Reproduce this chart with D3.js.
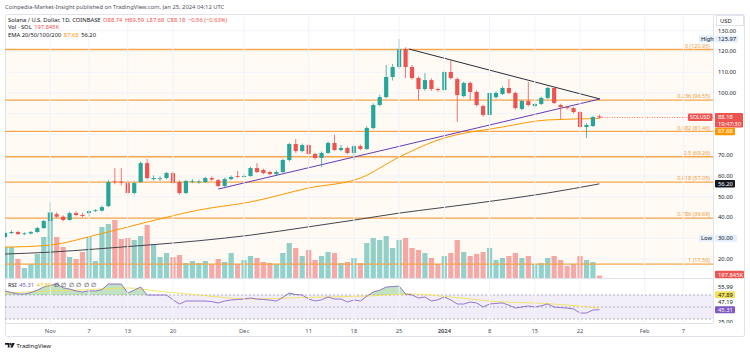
<!DOCTYPE html>
<html lang="en">
<head>
<meta charset="UTF-8">
<script src="https://cdn.jsdelivr.net/npm/d3@7"></script>
<title>SOLUSD 1D</title>
<style>
    body { margin: 0; background: #fff; }
    svg { display: block; font-family: "Noto Sans", "Open Sans", sans-serif; }
    text { font-size: 5.8px; fill: #131722; }
</style>
</head>
<body>
<svg width="750" height="353"></svg>

<script>
    // daily candles, Oct 25 2023 .. Jan 25 2024
    const firstDay = "2023-10-25", lastDay = "2024-01-25";

    const open = [30.6,32.5,33.0,32.0,32.3,33.0,34.9, 38.3,41.6,40.4,38.8,42.1,41.2,42.1,43.1,43.3,45.5,57.4,57.3,56.6,51.8,57.1,66.2,58.5,58.6,59.0,61.4,57.1,51.8,57.3,57.0,57.1,59.0,58.0,55.2,58.5,59.9,
        59.5,60.0,63.8,62.9,61.9,60.9,61.9,67.7,75.4,72.0,74.9,70.6,68.7,71.1,75.9,72.5,73.5,71.1,74.4,73.0,83.1,94.2,98.0,107.7,112.5,121.2,112.5,107.2,101.9,106.2,101.9,
        101.4,110.1,106.7,98.5,104.8,100.5,93.7,89.4,98.0,99.5,102.4,100.0,92.3,96.1,93.7,94.7,97.6,102.4,94.2,93.2,92.7,90.8,83.6,84.1,88.74];
    const high = [33.2,33.8,33.6,32.9,33.5,35.5,38.8, 47.4,42.5,41.0,42.8,43.0,42.2,43.6,44.0,45.8,58.0,63.8,63.8,58.0,57.3,67.0,68.2,60.3,59.8,62.0,62.2,57.8,58.2,58.5,58.2,59.6,59.8,58.6,59.2,60.2,62.4,
        61.0,64.4,66.2,63.5,62.5,62.6,68.4,76.0,77.8,75.6,75.6,71.2,71.8,76.6,79.8,75.0,74.2,75.0,75.2,84.0,95.0,99.2,113.5,114.0,125.97,122.0,113.5,108.0,109.6,107.0,102.6,
        110.8,116.4,107.5,105.5,105.6,101.2,94.4,100.6,100.8,103.2,106.7,100.6,96.8,105.3,95.4,98.2,103.0,103.0,94.8,93.8,93.3,91.3,85.4,89.0,89.59];
    const low = [30.0,32.0,31.6,31.5,31.8,32.6,34.5, 37.8,39.8,38.2,38.5,40.6,40.2,40.5,42.6,42.8,45.0,56.0,55.5,51.0,51.2,56.6,58.3,57.8,57.6,58.4,56.0,51.0,51.2,56.5,56.3,56.6,57.6,54.6,54.8,58.0,59.0,
        59.2,59.6,61.4,60.8,60.4,60.4,61.4,67.0,71.2,71.4,66.2,68.0,64.3,70.6,72.0,71.8,70.5,67.7,72.4,72.5,82.5,93.5,97.4,106.0,111.5,107.2,106.5,96.6,101.0,101.0,100.6,
        101.0,106.5,86.0,97.8,96.6,93.5,88.6,86.0,97.2,99.0,99.4,92.0,91.6,93.6,93.0,94.2,97.0,94.6,87.4,92.0,90.2,83.0,78.3,83.6,87.68];
    const close = [32.5,33.0,32.0,32.3,33.0,34.9,38.3, 42.1,40.4,38.8,42.1,41.2,40.7,43.1,43.5,45.0,57.1,57.1,56.8,51.8,56.6,66.2,59.0,59.0,58.9,61.4,56.6,51.8,57.6,57.6,57.3,59.0,58.3,55.2,58.5,59.5,59.5,
        60.0,63.8,61.9,61.4,60.9,61.9,67.7,75.4,72.0,74.9,70.6,68.7,71.1,75.9,72.5,73.5,71.1,74.4,73.0,83.1,94.2,98.0,107.7,112.5,121.2,112.5,107.2,101.9,106.2,101.9,101.4,
        110.1,107.2,99.0,104.8,100.5,94.2,89.4,100.0,100.0,102.4,100.0,92.7,96.1,94.2,94.7,97.6,102.4,95.2,93.2,92.7,90.8,83.6,84.6,88.4,88.18];
    // volume, thousands of SOL
    const volume = [2480,2480,1520,800,1120,1920,3280, 5280,3280,2480,1680,1520,2080,3280,1360,4080,4320,4640,3120,3200,3040,3360,4240,2720,1680,2000,1680,1840,1200,1360,1200,1360,1120,1520,1280,2000,1120,
        1440,1760,1600,1280,1200,1120,2000,2800,2400,1760,2240,1440,1760,2080,2000,1200,1280,1600,1200,2800,3200,3040,3360,2400,3040,3200,2400,2240,2000,1600,1120,
        1760,2000,3040,2080,1760,1920,2080,2400,1440,1600,1760,2000,1600,1760,1120,1200,1600,1760,1440,960,1120,1760,1440,1280,197.845];
    const rsi = [76.7,74,71.7,71.7,74,78,83.3, 86,88.3,82,80,76.7,75,77,76.7,79,88.3,88.3,88.3,73.3,78,83.3,70,70,70,70,62,55,60,60,60,60,59,56.7,60,61.7,62.5,
        63.3,65,63.3,62.5,61.5,60,66,73.3,70.8,70,63.3,60,62,66.7,63.3,63.3,58.3,61.7,60,68,75,78,83.3,84,85,72,70,65,66.7,60,62,
        66.7,61.7,55,55,58.3,56.7,50,55,56,56.7,53,48.3,50,51.7,50,52,55,50,49,48.3,46.7,40,40,45,45.31];

    // RSI-based MA, read at a few dates
    const rsiMaDates = ["2023-10-25","2023-11-01","2023-11-07","2023-11-13","2023-11-18","2023-11-24","2023-12-02","2023-12-10","2023-12-20","2023-12-27","2024-01-02","2024-01-10","2024-01-15","2024-01-20","2024-01-25"];
    const rsiMa = [73.3,76.7,79,81.7,76,70,63.3,65.8,68.3,71.7,66.7,58.3,56.7,53.3,47.89];

    // EMA lines, read at a few dates
    const emaDates = ["2023-10-25","2023-11-01","2023-11-08","2023-11-16","2023-11-24","2023-12-02","2023-12-11","2023-12-19","2023-12-25","2023-12-31","2024-01-10","2024-01-17","2024-01-25"];
    const emaOrange = [25.7,26.7,31.5,37.8,43.6,47.5,54.2,59.0,69.1,77.3,83.6,87.0,87.68];
    const emaGrey = [22.4,23.3,24.8,26.7,28.8,31.5,35.5,39.2,42.1,44.5,48.6,51.8,56.20];

    // drawn trend lines
    const wedgeTopDates = ["2023-12-26T12:00Z","2024-01-25T02:00Z"];
    const wedgeTop = [121.2, 97.1];
    const wedgeLowDates = ["2023-11-27","2024-01-25T02:00Z"];
    const wedgeLow = [53.7, 97.1];

    // fibonacci retracement
    const fibRatios = ["0","0.236","0.382","0.5","0.618","0.786","1"];
    const fibValues = [120.95,96.55,81.46,69.26,57.05,39.69,17.56];

    const priceTicks = [130,120,110,100,90,80,70,60,50,40,30,20];
    const timeTicks = ["2023-11-01","2023-11-07","2023-11-13","2023-11-20","2023-12-01","2023-12-11","2023-12-18","2023-12-25","2024-01-01","2024-01-08","2024-01-15","2024-01-22","2024-02-01","2024-02-07"];
    const timeLabels = ["Nov","7","13","20","Dec","11","18","25","2024","8","15","22","Feb","7"];

    const green = "#26a69a", red = "#ef5350", orange = "#ff9800", purple = "#7e57c2";

    const dates = d3.utcDay.range(new Date(firstDay), d3.utcDay.offset(new Date(lastDay), 1));
    const bars = dates.map((d, i) => ({date: d, o: open[i], h: high[i], l: low[i], c: close[i], v: volume[i], rsi: rsi[i]}));

    const left = 5, right = 713, paneTop = 15, mainBottom = 278, rsiTop = 279, rsiBottom = 323;

    const x = d3.scaleUtc()
        .domain([new Date("2023-10-25"), new Date("2024-02-11T14:00Z")])
        .range([left, right]);
    const y = d3.scaleLinear().domain([20, 130]).range([259, 30.7]);
    const vy = d3.scaleLinear().domain([0, d3.max(volume)]).range([mainBottom, mainBottom - 66]);
    const ry = d3.scaleLinear().domain([30, 70]).range([319, 295]);

    const svg = d3.select("svg");
    const defs = svg.append("defs");
    defs.append("clipPath").attr("id", "mainClip")
        .append("rect").attr("x", left).attr("y", paneTop).attr("width", right - left).attr("height", mainBottom - paneTop);
    defs.append("clipPath").attr("id", "rsiClip")
        .append("rect").attr("x", left).attr("y", rsiTop).attr("width", right - left).attr("height", rsiBottom - rsiTop);
    defs.append("clipPath").attr("id", "obClip")
        .append("rect").attr("x", left).attr("y", rsiTop).attr("width", right - left).attr("height", ry(70) - rsiTop);
    defs.append("clipPath").attr("id", "axisClip")
        .append("rect").attr("x", 714).attr("y", rsiTop).attr("width", 30).attr("height", rsiBottom - rsiTop);

    // header
    svg.append("text").attr("x", 5).attr("y", 9).style("fill", "#50535e")
        .text("Coinpedia-Market-Insight published on TradingView.com, Jan 25, 2024 04:12 UTC");

    // frame
    svg.append("rect").attr("x", 5.5).attr("y", 14.5).attr("width", 739).attr("height", 322)
        .attr("rx", 2).attr("fill", "none").attr("stroke", "#e0e3eb");

    const main = svg.append("g").attr("clip-path", "url(#mainClip)");
    const pane2 = svg.append("g").attr("clip-path", "url(#rsiClip)");

    // fib background
    main.append("rect").attr("x", left).attr("width", right - left)
        .attr("y", y(fibValues[0])).attr("height", y(fibValues[6]) - y(fibValues[0]))
        .attr("fill", "rgba(255,152,0,0.045)");

    // grid
    main.selectAll(".hgrid").data(priceTicks).join("line")
        .attr("x1", left).attr("x2", right).attr("y1", d => y(d)).attr("y2", d => y(d))
        .attr("stroke", "#f0f3fa");
    svg.selectAll(".vgrid").data(timeTicks).join("line")
        .attr("x1", d => x(new Date(d))).attr("x2", d => x(new Date(d)))
        .attr("y1", paneTop).attr("y2", rsiBottom).attr("stroke", "#f0f3fa");

    // volume
    main.selectAll(".vol").data(bars).join("rect")
        .attr("x", d => x(d.date) - 2.6).attr("width", 5.2)
        .attr("y", d => vy(d.v)).attr("height", d => mainBottom - vy(d.v))
        .attr("fill", d => d.c >= d.o ? "rgba(38,166,154,0.5)" : "rgba(239,83,80,0.5)");

    // fib lines
    main.selectAll(".fib").data(fibValues).join("line")
        .attr("x1", left).attr("x2", right).attr("y1", d => y(d)).attr("y2", d => y(d))
        .attr("stroke", "#f7a64b").attr("stroke-width", 1.3);

    // EMAs
    const emaLine = vals => d3.line().curve(d3.curveMonotoneX)
        .x((d, i) => x(new Date(emaDates[i]))).y(d => y(d))(vals);
    main.append("path").attr("d", emaLine(emaGrey)).attr("fill", "none").attr("stroke", "#434651").attr("stroke-width", 1);
    main.append("path").attr("d", emaLine(emaOrange)).attr("fill", "none").attr("stroke", orange).attr("stroke-width", 1);

    // trend lines
    const seg = (ds, vs) => d3.line().x((d, i) => x(new Date(ds[i]))).y(d => y(d))(vs);
    main.append("path").attr("d", seg(wedgeLowDates, wedgeLow)).attr("stroke", "#673ab7").attr("stroke-width", 1).attr("fill", "none");
    main.append("path").attr("d", seg(wedgeTopDates, wedgeTop)).attr("stroke", "#2a2e39").attr("stroke-width", 1).attr("fill", "none");

    // candles
    const cg = main.selectAll(".candle").data(bars).join("g");
    cg.append("line")
        .attr("x1", d => x(d.date)).attr("x2", d => x(d.date))
        .attr("y1", d => y(d.h)).attr("y2", d => y(d.l))
        .attr("stroke", d => d.c >= d.o ? green : red).attr("stroke-width", 0.8);
    cg.append("rect")
        .attr("x", d => x(d.date) - 2.1).attr("width", 4.2)
        .attr("y", d => y(Math.max(d.o, d.c)))
        .attr("height", d => Math.max(0.8, Math.abs(y(d.o) - y(d.c))))
        .attr("fill", d => d.c >= d.o ? green : red);

    // current price line
    const last = bars[bars.length - 1];
    main.append("line").attr("x1", x(last.date)).attr("x2", right)
        .attr("y1", y(last.c)).attr("y2", y(last.c))
        .attr("stroke", red).attr("stroke-dasharray", "1,1.5").attr("stroke-width", 0.8);

    // fib labels
    main.selectAll(".fibLabel").data(fibValues).join("text")
        .attr("x", 710).attr("y", d => y(d) - 1.8).attr("text-anchor", "end")
        .style("fill", "#f29a3a").style("font-size", "5.5px")
        .text((d, i) => `${fibRatios[i]} (${d.toFixed(2)})`);

    // legend
    const leg = (yy, parts) => {
        const t = svg.append("text").attr("x", 8).attr("y", yy);
        parts.forEach(([s, c], i) => t.append("tspan").attr("dx", i ? 2.5 : 0).style("fill", c).text(s));
    };
    leg(22, [["Solana / U.S. Dollar, 1D, COINBASE", "#131722"],
        ["O88.74", red], ["H89.59", red], ["L87.68", red], ["C88.18", red], ["\u22120.56 (\u22120.63%)", red]]);
    leg(29, [["Vol \u00b7 SOL", "#131722"], ["197.845K", red]]);
    leg(37, [["EMA 20/50/100/200", "#131722"], ["87.68", orange], ["56.20", "#131722"]]);

    // RSI pane
    svg.append("line").attr("x1", left).attr("x2", right).attr("y1", rsiTop - 0.5).attr("y2", rsiTop - 0.5).attr("stroke", "#e0e3eb");
    pane2.append("rect").attr("x", left).attr("width", right - left)
        .attr("y", ry(70)).attr("height", ry(30) - ry(70)).attr("fill", "rgba(126,87,194,0.1)");
    pane2.selectAll(".lvl").data([70, 50, 30]).join("line")
        .attr("x1", left).attr("x2", right).attr("y1", d => ry(d)).attr("y2", d => ry(d))
        .attr("stroke", "#9598a1").attr("stroke-dasharray", "2,2").attr("stroke-width", 0.7);
    pane2.append("path")
        .attr("clip-path", "url(#obClip)")
        .attr("d", d3.area().x(d => x(d.date)).y0(ry(70)).y1(d => ry(d.rsi))(bars))
        .attr("fill", "rgba(76,175,80,0.35)");
    pane2.append("path")
        .attr("d", d3.line().curve(d3.curveMonotoneX).x((d, i) => x(new Date(rsiMaDates[i]))).y(d => ry(d))(rsiMa))
        .attr("fill", "none").attr("stroke", "#f2e15a").attr("stroke-width", 0.9);
    pane2.append("path")
        .attr("d", d3.line().x(d => x(d.date)).y(d => ry(d.rsi))(bars))
        .attr("fill", "none").attr("stroke", purple).attr("stroke-width", 0.8);
    const rl = svg.append("text").attr("x", 8).attr("y", 287);
    [["RSI", "#131722"], ["45.31", purple], ["47.89", "#e3c800"], ["\u2205", "#131722"], ["\u2205", "#131722"], ["\u2205", "#131722"],
        ["\u2205", "#131722"], ["\u2205", "#131722"], ["\u2205", "#131722"]]
        .forEach(([s, c], i) => rl.append("tspan").attr("dx", i ? 2.5 : 0).style("fill", c).text(s));

    // right axis
    const pY = y(last.c);
    // tag centres, price ticks that would sit under a tag are hidden as on the original
    const tagCentres = [pY, pY + 6.5, pY + 14, y(56.2), y(125.97), y(30)];
    svg.append("line").attr("x1", right + 0.5).attr("x2", right + 0.5).attr("y1", paneTop).attr("y2", rsiBottom).attr("stroke", "#e0e3eb");
    svg.append("rect").attr("x", 716.5).attr("y", 15.5).attr("width", 27).attr("height", 10)
        .attr("fill", "#fff").attr("stroke", "#e0e3eb");
    svg.append("text").attr("x", 720).attr("y", 22.5).text("USD");
    svg.selectAll(".ptick").data(priceTicks.filter(t => tagCentres.every(c => Math.abs(y(t) - c) > 6.5))).join("text")
        .attr("x", 718).attr("y", d => y(d) + 2).text(d => d.toFixed(2));

    const tag = (cy, h, label, bg, fg, w = 28) => {
        svg.append("rect").attr("x", 715).attr("y", cy - h / 2).attr("width", w).attr("height", h).attr("fill", bg).attr("rx", 1);
        svg.append("text").attr("x", 718).attr("y", cy + 2).style("fill", fg).text(label);
    };
    // high / low markers
    tag(y(125.97), 7, "125.97", "#e3effd", "#131722", 23);
    svg.append("rect").attr("x", 699).attr("y", y(125.97) - 3.5).attr("width", 14).attr("height", 7).attr("fill", "#e3effd");
    svg.append("text").attr("x", 701).attr("y", y(125.97) + 1.6).text("High");
    tag(y(30), 7, "30.00", "#e3effd", "#131722", 22);
    svg.append("rect").attr("x", 699).attr("y", y(30) - 3.5).attr("width", 14).attr("height", 7).attr("fill", "#e3effd");
    svg.append("text").attr("x", 701).attr("y", y(30) + 2).text("Low");

    // price tags
    svg.append("rect").attr("x", 715).attr("y", pY - 4.5).attr("width", 28).attr("height", 14.5).attr("fill", red).attr("rx", 1);
    svg.append("text").attr("x", 718).attr("y", pY + 2).style("fill", "#fff").text("88.18");
    svg.append("text").attr("x", 718).attr("y", pY + 8.5).style("fill", "#fff").text("19:47:30");
    svg.append("rect").attr("x", 688).attr("y", pY - 4).attr("width", 24.5).attr("height", 7.5).attr("fill", red).attr("rx", 1);
    svg.append("text").attr("x", 700.2).attr("y", pY + 1.8).attr("text-anchor", "middle")
        .style("fill", "#fff").style("font-size", "5.3px").text("SOLUSD");
    tag(pY + 14, 7.5, "87.68", orange, "#fff", 20);
    tag(y(56.2), 7.5, "56.20", "#131722", "#fff", 20);
    tag(vy(197.845) - 1, 7.5, "197.845K", red, "#fff", 29);

    // RSI axis labels, stacked
    const rsiTags = [["55.99", null, "#131722"], ["47.89", "#f2e15a", "#131722"], ["47.19", null, "#131722"], ["45.31", purple, "#fff"]];
    rsiTags.forEach(([s, bg, fg], i) => {
        const cy = ry(45.31) - (rsiTags.length - 1 - i) * 7.5;
        if (bg) tag(cy, 7, s, bg, fg, 20);
        else svg.append("text").attr("x", 718).attr("y", cy + 2).text(s);
    });
    svg.append("text").attr("x", 718).attr("y", ry(25) + 2).attr("clip-path", "url(#axisClip)").text("25.00");

    // time axis
    svg.append("line").attr("x1", left).attr("x2", right).attr("y1", rsiBottom + 0.5).attr("y2", rsiBottom + 0.5).attr("stroke", "#e0e3eb");
    svg.selectAll(".ttick").data(timeTicks).join("text")
        .attr("x", d => x(new Date(d))).attr("y", 332.5).attr("text-anchor", "middle")
        .style("fill", "#50535e").style("font-weight", (d, i) => timeLabels[i] === "2024" ? "bold" : null)
        .text((d, i) => timeLabels[i]);

    // TradingView mark
    const logo = svg.append("g").attr("transform", "translate(5,343)").attr("fill", "#131722");
    logo.append("path").attr("d", "M0 0h4.5v4.5h-1.7v-2.8H0z");
    logo.append("circle").attr("cx", 5.7).attr("cy", 1.2).attr("r", 1.1);
    logo.append("path").attr("d", "M7.4 0h2.4l-2.2 4.5H5.2z");
    svg.append("text").attr("x", 16.5).attr("y", 347.8).style("font-size", "6px").text("TradingView");
</script>
</body>
</html>
